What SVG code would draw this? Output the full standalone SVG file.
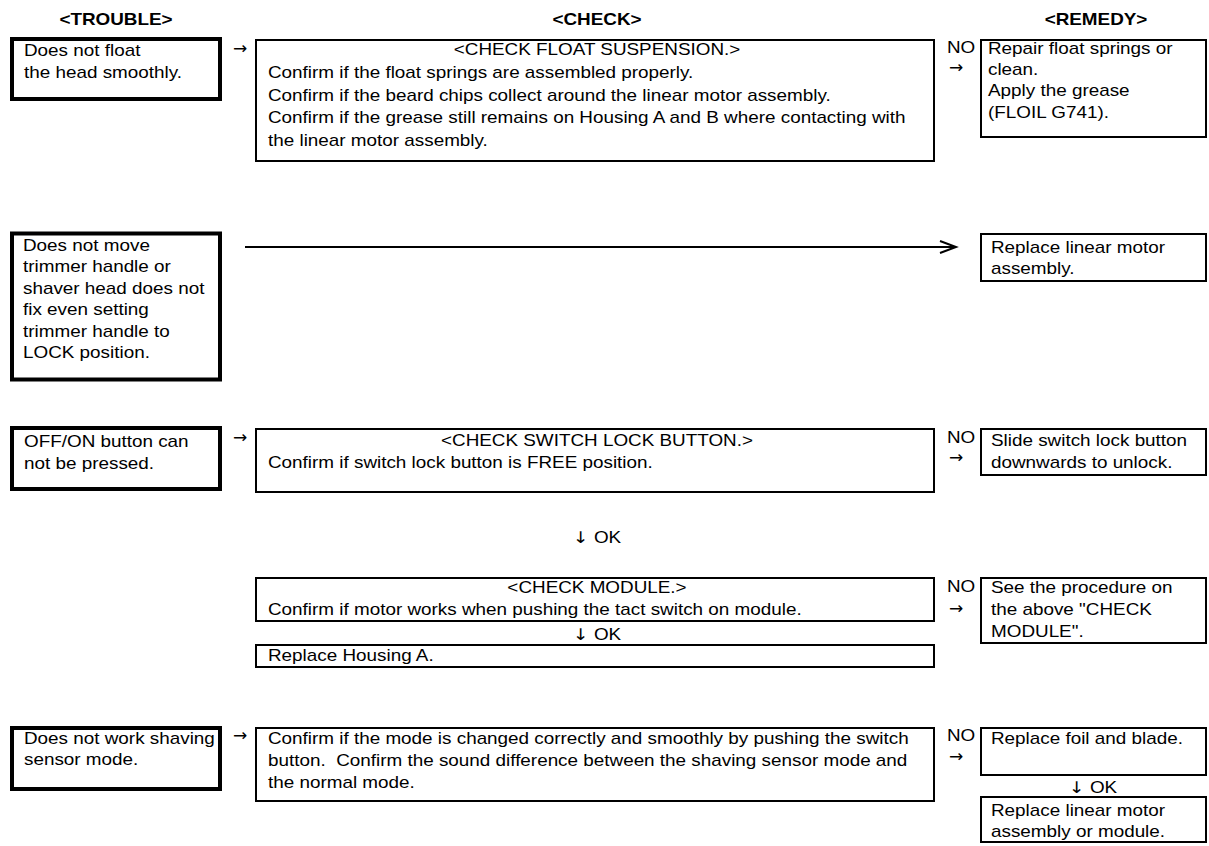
<svg xmlns="http://www.w3.org/2000/svg" width="1209" height="846" viewBox="0 0 1209 846">
<style>
.tb{fill:#fff;stroke:#000;stroke-width:4}
.bx{fill:#fff;stroke:#000;stroke-width:2}
text{font-family:"Liberation Sans",Arial,Helvetica,sans-serif;font-size:16px;fill:#000}
.h{font-weight:bold}
.m{text-anchor:middle}
.ar{font-family:"DejaVu Sans",sans-serif;font-size:17px}
.dn{font-family:"DejaVu Sans",sans-serif;font-size:16px}
.cn{fill:none;stroke:#000;stroke-width:2}
</style>
<rect width="1209" height="846" fill="#fff"/>
<g id="headers">
<text class="h m" transform="translate(116,25) scale(1.18,1)">&lt;TROUBLE&gt;</text>
<text class="h m" transform="translate(597,25) scale(1.18,1)">&lt;CHECK&gt;</text>
<text class="h m" transform="translate(1096,25) scale(1.18,1)">&lt;REMEDY&gt;</text>
</g>
<g id="connectors">
<text class="ar" x="233" y="54">→</text>
<text transform="translate(947,53) scale(1.18,1)">NO</text>
<text class="ar" x="949" y="73">→</text>
<line class="cn" x1="245" y1="247" x2="956" y2="247"/>
<polyline class="cn" points="940,241 956,247 940,253"/>
<text class="ar" x="233" y="443">→</text>
<text transform="translate(947,443) scale(1.18,1)">NO</text>
<text class="ar" x="949" y="463">→</text>
<text class="m" transform="translate(597,543) scale(1.18,1)"><tspan class="dn">↓</tspan> OK</text>
<text transform="translate(947,592) scale(1.18,1)">NO</text>
<text class="ar" x="949" y="614">→</text>
<text class="m" transform="translate(597,640) scale(1.18,1)"><tspan class="dn">↓</tspan> OK</text>
<text class="ar" x="233" y="741">→</text>
<text transform="translate(947,741) scale(1.18,1)">NO</text>
<text class="ar" x="949" y="762">→</text>
<text class="m" transform="translate(1093,793) scale(1.18,1)"><tspan class="dn">↓</tspan> OK</text>
</g>
<g id="trouble-float">
<rect class="tb" x="12" y="39" width="208" height="60"/>
<text transform="translate(24,56) scale(1.18,1)">Does not float</text>
<text transform="translate(24,77.5) scale(1.18,1)">the head smoothly.</text>
</g>
<g id="check-float">
<rect class="bx" x="256" y="40" width="678" height="121"/>
<text class="m" transform="translate(597,54.5) scale(1.18,1)">&lt;CHECK FLOAT SUSPENSION.&gt;</text>
<text transform="translate(268,78) scale(1.18,1)">Confirm if the float springs are assembled properly.</text>
<text transform="translate(268,100.5) scale(1.18,1)">Confirm if the beard chips collect around the linear motor assembly.</text>
<text transform="translate(268,123) scale(1.18,1)">Confirm if the grease still remains on Housing A and B where contacting with</text>
<text transform="translate(268,145.5) scale(1.18,1)">the linear motor assembly.</text>
</g>
<g id="remedy-float">
<rect class="bx" x="981" y="40" width="225" height="97"/>
<text transform="translate(988,54) scale(1.18,1)">Repair float springs or</text>
<text transform="translate(988,75) scale(1.18,1)">clean.</text>
<text transform="translate(988,96) scale(1.18,1)">Apply the grease</text>
<text transform="translate(988,117.5) scale(1.18,1)">(FLOIL G741).</text>
</g>
<g id="trouble-trimmer">
<rect class="tb" x="12" y="233.5" width="208" height="146"/>
<text transform="translate(23,250.5) scale(1.18,1)">Does not move</text>
<text transform="translate(23,272) scale(1.18,1)">trimmer handle or</text>
<text transform="translate(23,293.5) scale(1.18,1)">shaver head does not</text>
<text transform="translate(23,315) scale(1.18,1)">fix even setting</text>
<text transform="translate(23,336.5) scale(1.18,1)">trimmer handle to</text>
<text transform="translate(23,358) scale(1.18,1)">LOCK position.</text>
</g>
<g id="remedy-motor">
<rect class="bx" x="981" y="234" width="225" height="47"/>
<text transform="translate(991,253) scale(1.18,1)">Replace linear motor</text>
<text transform="translate(991,274) scale(1.18,1)">assembly.</text>
</g>
<g id="trouble-button">
<rect class="tb" x="12" y="428" width="208" height="61"/>
<text transform="translate(24,447) scale(1.18,1)">OFF/ON button can</text>
<text transform="translate(24,468.5) scale(1.18,1)">not be pressed.</text>
</g>
<g id="check-switch">
<rect class="bx" x="256" y="429" width="678" height="63"/>
<text class="m" transform="translate(597,445.5) scale(1.18,1)">&lt;CHECK SWITCH LOCK BUTTON.&gt;</text>
<text transform="translate(268,467.5) scale(1.18,1)">Confirm if switch lock button is FREE position.</text>
</g>
<g id="remedy-switch">
<rect class="bx" x="981" y="429" width="225" height="46"/>
<text transform="translate(991,446) scale(1.18,1)">Slide switch lock button</text>
<text transform="translate(991,467.5) scale(1.18,1)">downwards to unlock.</text>
</g>
<g id="check-module">
<rect class="bx" x="256" y="578" width="678" height="43"/>
<text class="m" transform="translate(597,592.5) scale(1.18,1)">&lt;CHECK MODULE.&gt;</text>
<text transform="translate(268,614.5) scale(1.18,1)">Confirm if motor works when pushing the tact switch on module.</text>
</g>
<g id="replace-housing">
<rect class="bx" x="256" y="645" width="678" height="22"/>
<text transform="translate(268,661) scale(1.18,1)">Replace Housing A.</text>
</g>
<g id="remedy-module">
<rect class="bx" x="981" y="578" width="225" height="65"/>
<text transform="translate(991,592.5) scale(1.18,1)">See the procedure on</text>
<text transform="translate(991,614.5) scale(1.18,1)">the above "CHECK</text>
<text transform="translate(991,636.5) scale(1.18,1)">MODULE".</text>
</g>
<g id="trouble-sensor">
<rect class="tb" x="12" y="728" width="208" height="61"/>
<text transform="translate(24,744) scale(1.18,1)">Does not work shaving</text>
<text transform="translate(24,765) scale(1.18,1)">sensor mode.</text>
</g>
<g id="check-sensor">
<rect class="bx" x="256" y="728" width="678" height="73"/>
<text transform="translate(268,744) scale(1.18,1)">Confirm if the mode is changed correctly and smoothly by pushing the switch</text>
<text transform="translate(268,766) scale(1.18,1)">button.&#160; Confirm the sound difference between the shaving sensor mode and</text>
<text transform="translate(268,788) scale(1.18,1)">the normal mode.</text>
</g>
<g id="remedy-foil">
<rect class="bx" x="981" y="728" width="225" height="47"/>
<text transform="translate(991,744) scale(1.18,1)">Replace foil and blade.</text>
</g>
<g id="remedy-linear">
<rect class="bx" x="981" y="797" width="225" height="45"/>
<text transform="translate(991,816) scale(1.18,1)">Replace linear motor</text>
<text transform="translate(991,837) scale(1.18,1)">assembly or module.</text>
</g>
</svg>
